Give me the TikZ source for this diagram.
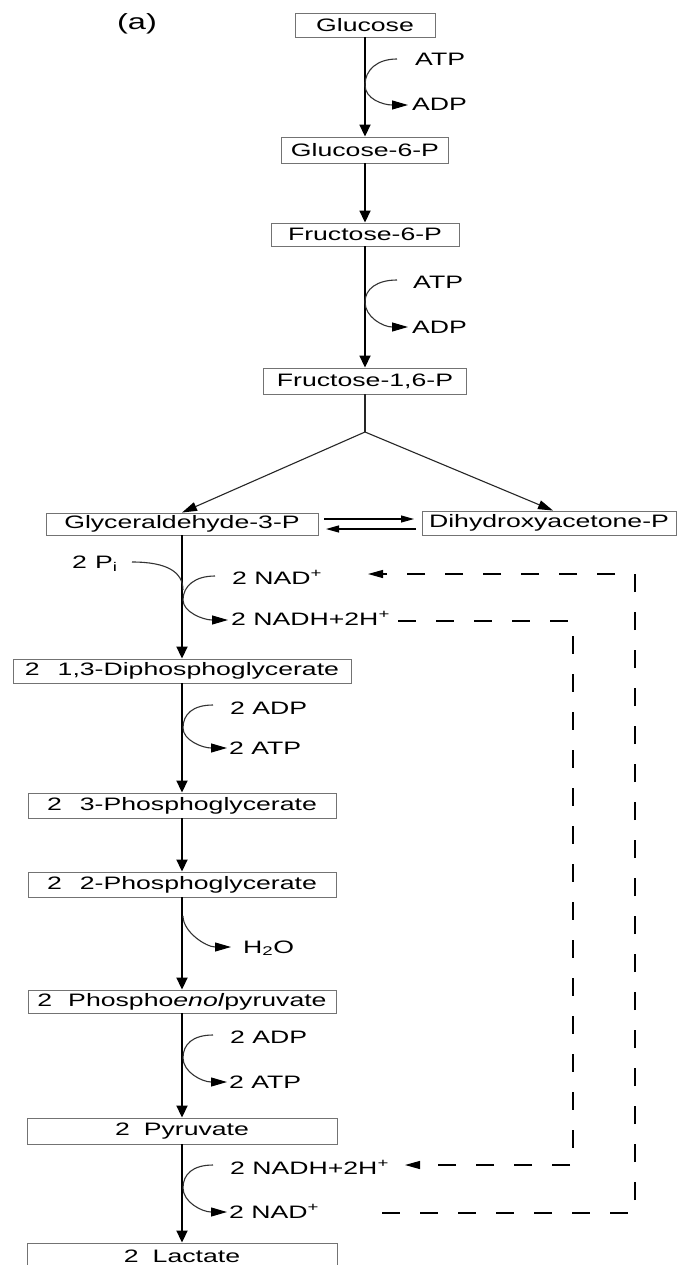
\documentclass[tikz,border=0pt]{standalone}
\usepackage{fontspec}
\setmainfont{Liberation Sans}[FakeStretch=1.48]
\usetikzlibrary{arrows.meta}
\newcommand\myfs{\fontsize{18}{21}\selectfont}
\begin{document}
\begin{tikzpicture}[x=1pt,y=-1pt,
  box/.style={draw=black!55, line width=0.9pt, minimum height=24pt, inner sep=0pt, font=\myfs, text=black},
  lbl/.style={inner sep=0pt, anchor=base west, font=\myfs},
  mainarrow/.style={line width=1.8pt, -{Triangle[length=12pt,width=11pt]}},
  cof/.style={line width=1.1pt, draw=black!80, -{Triangle[length=16pt,width=9pt,color=black]}},
  cofline/.style={line width=1.1pt, draw=black!80},
  split/.style={line width=1.1pt, draw=black!85},
  splitarrow/.style={split, -{Triangle[length=15pt,width=9pt,color=black]}},
  eqarrow/.style={line width=1.1pt, -{Triangle[length=13pt,width=7pt]}},
  dashline/.style={line width=1.2pt, dash pattern=on 18pt off 20pt, -{Triangle[length=15pt,width=8pt]}}
]
\clip (0,0) rectangle (680,1265);
\fill[white] (0,0) rectangle (680,1265);

\node[font=\fontsize{22}{26}\selectfont, inner sep=0pt] (lab) at (137,24) {(a)};

% upper chain
\node[box, minimum width=140pt, minimum height=24pt] (glc) at (365,25) {Glucose};
\node[box, minimum width=167pt, minimum height=26pt] (g6p) at (365,150) {Glucose-6-P};
\node[box, minimum width=188pt, minimum height=23pt] (f6p) at (365,234.5) {Fructose-6-P};
\node[box, minimum width=203pt, minimum height=26pt] (f16p) at (365,381) {Fructose-1,6-P};
\node[box, minimum width=272pt, minimum height=22pt] (gap) at (182,524) {Glyceraldehyde-3-P};
\node[box, minimum width=254pt, minimum height=24pt] (dhap) at (549,523) {Dihydroxyacetone-P};
\node[box, minimum width=338pt, minimum height=24pt] (bpg) at (182,671) {2\hspace{18pt}1,3-Diphosphoglycerate};
\node[box, minimum width=308pt, minimum height=25pt] (pg3) at (182,805.5) {2\hspace{18pt}3-Phosphoglycerate};
\node[box, minimum width=308pt, minimum height=25pt] (pg2) at (182,884.5) {2\hspace{18pt}2-Phosphoglycerate};
\node[box, minimum width=308pt, minimum height=23pt] (pep) at (182,1001.5) {2\hspace{16pt}Phospho\textit{enol}pyruvate};
\node[box, minimum width=310pt, minimum height=26pt] (pyr) at (182,1131) {2\hspace{14pt}Pyruvate};
\node[box, minimum width=310pt, minimum height=26pt] (lac) at (182,1256) {2\hspace{14pt}Lactate};

% labels
\node[lbl] (atp1) at (415,66) {ATP};
\node[lbl] (adp1) at (412,111) {ADP};
\node[lbl] (atp2) at (413,288) {ATP};
\node[lbl] (adp2) at (412,333) {ADP};
\node[lbl] (pi) at (72,568) {2\hspace{8pt}P\textsubscript{i}};
\node[lbl] (nad1) at (232,584) {2 NAD\textsuperscript{+}};
\node[lbl] (nadh1) at (231,625) {2 NADH+2H\textsuperscript{+}};
\node[lbl] (adp3) at (230,714) {2 ADP};
\node[lbl] (atp3) at (229,754) {2 ATP};
\node[lbl] (h2o) at (243,953) {H\textsubscript{2}O};
\node[lbl] (adp4) at (230,1043) {2 ADP};
\node[lbl] (atp4) at (229,1088) {2 ATP};
\node[lbl] (nadh2) at (230,1174) {2 NADH+2H\textsuperscript{+}};
\node[lbl] (nad2) at (229,1218) {2 NAD\textsuperscript{+}};

% main arrows
\draw[mainarrow] (glc.south) -- (g6p.north);
\draw[mainarrow] (g6p.south) -- (f6p.north);
\draw[mainarrow] (f6p.south) -- (f16p.north);
\draw[mainarrow] (gap.south) -- (bpg.north);
\draw[mainarrow] (bpg.south) -- (pg3.north);
\draw[mainarrow] (pg3.south) -- (pg2.north);
\draw[mainarrow] (pg2.south) -- (pep.north);
\draw[mainarrow] (pep.south) -- (pyr.north);
\draw[mainarrow] (pyr.south) -- (lac.north);

% split
\coordinate (sp) at (365,432);
\draw[split] (f16p.south) -- (sp);
\draw[splitarrow] (sp) -- (gap.north);
\draw[splitarrow] (sp) -- ([xshift=4pt]dhap.north);

% equilibrium
\coordinate (eq1s) at (324,519); \coordinate (eq1e) at (414,519);
\coordinate (eq2s) at (416,529); \coordinate (eq2e) at (326,529);
\draw[eqarrow] (eq1s) -- (eq1e);
\draw[eqarrow] (eq2s) -- (eq2e);

% cofactor curves
\coordinate (s1) at (397,59); \coordinate (m1) at (365,85); \coordinate (e1) at (408,105);
\draw[cof] (s1) .. controls +(-20,0) and +(0,-15) .. (m1) .. controls +(0,14) and +(-25,0) .. (e1);
\coordinate (s2) at (397,280); \coordinate (m2) at (365,302); \coordinate (e2) at (408,327);
\draw[cof] (s2) .. controls +(-20,0) and +(0,-13) .. (m2) .. controls +(0,15) and +(-25,0) .. (e2);
\coordinate (spi) at (132,562); \coordinate (mpi) at (183,590);
\draw[cofline] (spi) .. controls +(35,0) and +(0,-18) .. (mpi);
\coordinate (s3) at (215,576); \coordinate (m3) at (183,600); \coordinate (e3) at (228,620);
\draw[cof] (s3) .. controls +(-20,0) and +(0,-14) .. (m3) .. controls +(0,12) and +(-25,0) .. (e3);
\coordinate (s4) at (213,705); \coordinate (m4) at (183,728); \coordinate (e4) at (227,748);
\draw[cof] (s4) .. controls +(-20,0) and +(0,-14) .. (m4) .. controls +(0,12) and +(-25,0) .. (e4);
\coordinate (m5) at (183,916); \coordinate (e5) at (231,947);
\draw[cof] (m5) .. controls +(0,16) and +(-25,0) .. (e5);
\coordinate (s6) at (213,1035); \coordinate (m6) at (183,1058); \coordinate (e6) at (227,1082);
\draw[cof] (s6) .. controls +(-20,0) and +(0,-14) .. (m6) .. controls +(0,14) and +(-25,0) .. (e6);
\coordinate (s7) at (213,1165); \coordinate (m7) at (183,1188); \coordinate (e7) at (227,1212);
\draw[cof] (s7) .. controls +(-20,0) and +(0,-14) .. (m7) .. controls +(0,14) and +(-25,0) .. (e7);

% dashed recycling
\coordinate (d1s) at (398,621); \coordinate (d1a) at (573,621);
\coordinate (d1b) at (573,1165); \coordinate (d1e) at (405,1165);
\draw[dashline] (d1s) -- (d1a) -- (d1b) -- (d1e);
\coordinate (d2s) at (382,1213); \coordinate (d2a) at (635,1213);
\coordinate (d2b) at (635,574); \coordinate (d2e) at (368,574);
\draw[dashline] (d2s) -- (d2a) -- (d2b) -- (d2e);
\end{tikzpicture}
\end{document}
